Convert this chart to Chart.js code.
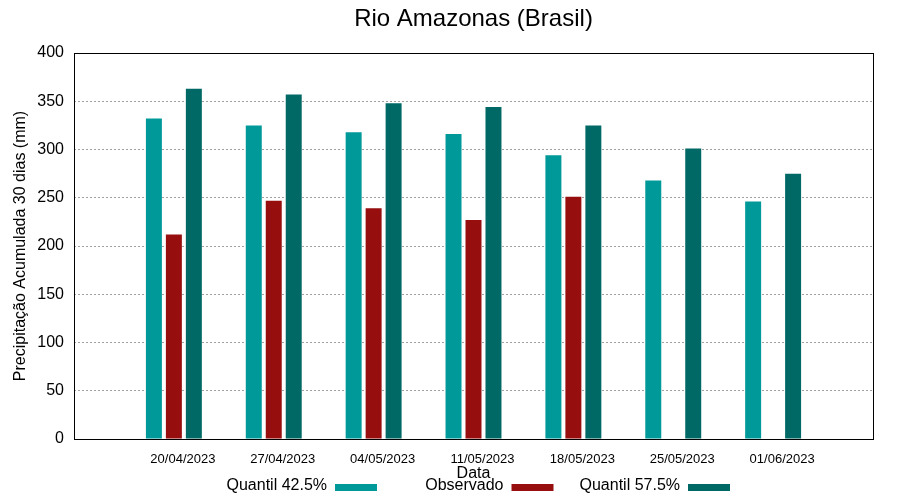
<!DOCTYPE html>
<html>
<head>
<meta charset="utf-8">
<script src="https://cdn.jsdelivr.net/npm/chart.js@4"></script>
<style>
    body { margin: 0; background: #fff; }
    #chart { display: block; }
</style>
</head>
<body>
<canvas id="chart" width="900" height="500"></canvas>
<script>
// dados
const datas = ['20/04/2023', '27/04/2023', '04/05/2023', '11/05/2023', '18/05/2023', '25/05/2023', '01/06/2023'];
const quantil425 = [332, 325, 318, 316, 294, 268, 246];
const observado = [212, 247, 239, 227, 251, null, null];
const quantil575 = [363, 357, 348, 344, 325, 301, 275];
const yTicks = [0, 50, 100, 150, 200, 250, 300, 350, 400];

// uma categoria vazia em cada lado (espaco como no gnuplot)
const rotulos = ['', ...datas, ''];
const pad = arr => [null, ...arr, null];

// moldura da area do grafico + legenda no rodape
const molduraLegenda = {
    id: 'molduraLegenda',
    afterDatasetsDraw(chart) {
        const { ctx, chartArea: a } = chart;
        ctx.save();
        ctx.strokeStyle = '#000';
        ctx.lineWidth = 1;
        ctx.strokeRect(a.left + 0.5, a.top + 0.5, a.right - a.left, a.bottom - a.top);

        ctx.font = '16px "Liberation Sans", Arial, sans-serif';
        ctx.textAlign = 'right';
        ctx.textBaseline = 'middle';
        chart.data.datasets.forEach((ds, i) => {
            const sx = 335 + i * 176.5;
            ctx.fillStyle = '#000';
            ctx.fillText(ds.label, sx - 8, 486);
            ctx.fillStyle = ds.backgroundColor;
            ctx.fillRect(sx, 484, 42, 7);
        });
        ctx.restore();
    }
};

const ctx = document.getElementById('chart').getContext('2d');
const grafico = new Chart(ctx, {
    type: 'bar',
    data: {
        labels: rotulos,
        datasets: [
            { label: 'Quantil 42.5%', data: pad(quantil425), backgroundColor: '#009999' },
            { label: 'Observado', data: pad(observado), backgroundColor: '#960e0e' },
            { label: 'Quantil 57.5%', data: pad(quantil575), backgroundColor: '#006966' }
        ]
    },
    options: {
        responsive: false,
        animation: false,
        devicePixelRatio: 1,
        categoryPercentage: 0.6,
        barPercentage: 0.8,
        layout: { padding: { left: 0, right: 27, top: 0, bottom: 0 } },
        plugins: {
            legend: { display: false },
            tooltip: { enabled: false },
            title: {
                display: true,
                fullSize: false,
                text: 'Rio Amazonas (Brasil)',
                color: '#000',
                font: { family: '"Liberation Sans", Arial, sans-serif', size: 24, weight: 'normal' },
                padding: { top: 5, bottom: 19.2 }
            }
        },
        scales: {
            x: {
                offset: false,
                grid: { display: false, drawTicks: false, tickLength: 0 },
                border: { display: false },
                ticks: {
                    autoSkip: false,
                    maxRotation: 0,
                    padding: 13,
                    labelOffset: 9,
                    color: '#000',
                    font: { family: '"Liberation Sans", Arial, sans-serif', size: 13 }
                },
                title: {
                    display: true,
                    text: 'Data',
                    color: '#000',
                    font: { family: '"Liberation Sans", Arial, sans-serif', size: 16 },
                    padding: { top: 0, bottom: 16.4 }
                },
                afterFit: s => { s.height = 61; }
            },
            y: {
                min: 0,
                max: 400,
                afterBuildTicks: s => { s.ticks = yTicks.map(v => ({ value: v })); },
                grid: {
                    color: '#a0a0a0',
                    lineWidth: 1,
                    drawTicks: false
                },
                border: { display: false, dash: [2, 2] },
                ticks: {
                    padding: 10,
                    color: '#000',
                    font: { family: '"Liberation Sans", Arial, sans-serif', size: 16 }
                },
                title: {
                    display: true,
                    text: 'Precipitação Acumulada 30 dias (mm)',
                    color: '#000',
                    font: { family: '"Liberation Sans", Arial, sans-serif', size: 16 },
                    padding: { top: 11, bottom: 0 }
                },
                afterFit: s => { s.width = 74; }
            }
        }
    },
    plugins: [molduraLegenda]
});
</script>
</body>
</html>
